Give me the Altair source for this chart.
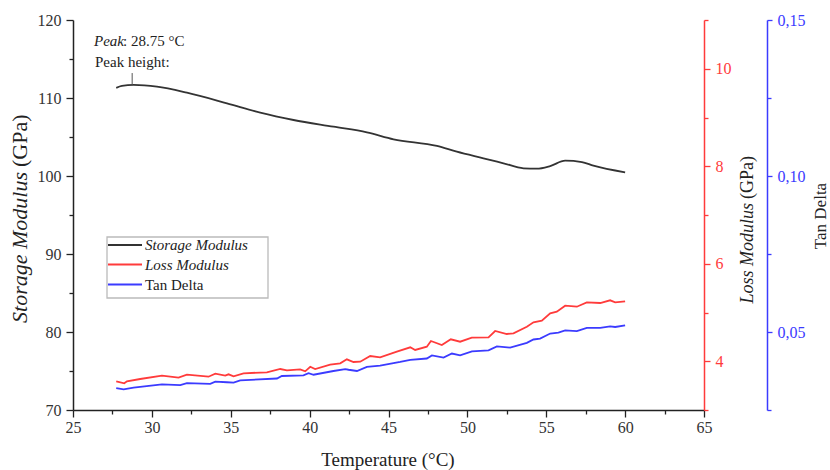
import altair as alt
import pandas as pd

FONT = "Liberation Serif"

# ---------------- data ----------------
storage_T = [27.74, 28.1, 28.84, 30.32, 32.22, 34.76, 36.87, 38.98, 41.51, 43.63, 45.32,
             48.07, 49.33, 51.02, 52.29, 53.56, 54.40, 55.25, 56.20, 57.26, 57.99, 60.00]
storage_V = [111.3, 111.55, 111.67, 111.45, 110.68, 109.32, 108.12, 107.18, 106.32, 105.60, 104.71,
             103.85, 103.12, 102.27, 101.63, 100.99, 100.94, 101.28, 101.96, 101.79, 101.32, 100.47]

loss_T = [27.74, 28.25, 28.42, 29.26, 30.64, 31.69, 32.22, 33.59, 34.02, 34.65, 34.86, 35.18,
          35.81, 37.29, 38.14, 38.56, 39.40, 39.72, 40.04, 40.35, 41.30, 41.94, 42.36, 42.78,
          43.21, 43.84, 44.47, 45.53, 46.38, 46.69, 47.43, 47.69, 48.38, 48.95, 49.54, 50.28,
          51.34, 51.76, 52.50, 52.92, 53.77, 54.19, 54.72, 55.25, 55.67, 56.20, 56.94, 57.57,
          58.42, 59.05, 59.37, 60.00]
loss_L = [3.589, 3.548, 3.589, 3.636, 3.704, 3.663, 3.724, 3.683, 3.745, 3.704, 3.732, 3.691,
          3.753, 3.773, 3.841, 3.814, 3.835, 3.794, 3.888, 3.841, 3.929, 3.958, 4.040, 3.985,
          3.991, 4.108, 4.081, 4.196, 4.286, 4.231, 4.298, 4.415, 4.333, 4.450, 4.401, 4.483,
          4.491, 4.621, 4.559, 4.573, 4.709, 4.799, 4.832, 4.984, 5.017, 5.140, 5.119, 5.209,
          5.195, 5.250, 5.209, 5.230]

tan_T = [27.74, 28.21, 28.84, 30.64, 31.80, 32.22, 33.70, 34.02, 34.76, 35.18, 35.60, 37.93,
         38.24, 39.61, 39.93, 40.25, 41.51, 42.26, 42.47, 43.00, 43.63, 44.47, 45.74, 46.38,
         47.43, 47.75, 48.49, 49.02, 49.54, 50.29, 51.34, 51.87, 52.71, 53.77, 54.19, 54.61,
         55.25, 55.77, 56.20, 56.94, 57.57, 58.42, 59.05, 59.37, 60.00]
tan_D = [0.0320, 0.0316, 0.0322, 0.0332, 0.0330, 0.0336, 0.0334, 0.0341, 0.0339, 0.0338, 0.0345, 0.0351,
         0.0359, 0.0361, 0.0368, 0.0363, 0.0375, 0.0381, 0.0379, 0.0375, 0.0388, 0.0392, 0.0404, 0.0411,
         0.0415, 0.0425, 0.0418, 0.0431, 0.0425, 0.0438, 0.0441, 0.0454, 0.0450, 0.0465, 0.0476, 0.0479,
         0.0495, 0.0498, 0.0505, 0.0503, 0.0513, 0.0513, 0.0518, 0.0516, 0.0521]

x_ticks = [25 + 2.5 * i for i in range(17)]
storage_ticks = [70 + 5 * i for i in range(11)]
loss_ticks = [3, 4, 5, 6, 7, 8, 9, 10, 11]
tan_ticks = [0.025, 0.05, 0.075, 0.1, 0.125, 0.15]

peak_temp = [28.75]
peak_tick_low = [111.7]
peak_tick_high = [113.2]

legend_labels = ["Storage Modulus", "Loss Modulus", "Tan Delta"]

BLACK = "#333333"
RED = "#ff3b3b"
BLUE = "#3b3bff"

storage_df = pd.DataFrame({"T": storage_T, "v": storage_V})
loss_df = pd.DataFrame({"T": loss_T, "v": loss_L})
tan_df = pd.DataFrame({"T": tan_T, "v": tan_D})
peak_df = pd.DataFrame({"T": peak_temp, "lo": peak_tick_low, "hi": peak_tick_high})
one = pd.DataFrame({"k": [0]})

# ---------------- axes ----------------
common = dict(grid=False, title="", labelFont=FONT, labelFontSize=16, labelFlush=False,
              labelOverlap=False, domainWidth=1.5, tickWidth=1.3)

x_axis = alt.Axis(values=x_ticks,
                  labelExpr="datum.value % 5 === 0 ? datum.label : ''",
                  tickSize={"condition": {"test": "datum.value % 5 === 0", "value": 7}, "value": 4},
                  domainColor="#222222", tickColor="#222222", labelColor="#333333",
                  labelPadding=2, **common)
x_enc = alt.X("T:Q", scale=alt.Scale(domain=[25, 65], nice=False, zero=False), axis=x_axis)

left_axis = alt.Axis(orient="left", values=storage_ticks,
                     labelExpr="datum.value % 10 === 0 ? datum.label : ''",
                     tickSize={"condition": {"test": "datum.value % 10 === 0", "value": 7}, "value": 4},
                     domainColor="#222222", tickColor="#222222", labelColor="#333333",
                     labelPadding=5, **common)
s_scale = alt.Scale(domain=[70, 120], nice=False, zero=False)

red_axis = alt.Axis(orient="right", values=loss_ticks,
                    labelExpr="datum.value % 2 === 0 ? datum.label : ''",
                    tickSize={"condition": {"test": "datum.value % 2 === 0", "value": 6}, "value": 4},
                    domainColor=RED, tickColor=RED, labelColor=RED, labelPadding=5, **common)
l_scale = alt.Scale(domain=[3, 11], nice=False, zero=False)

blue_axis = alt.Axis(orient="right", offset=63, values=tan_ticks,
                     labelExpr="round(datum.value*1000) % 50 === 0 ? replace(format(datum.value, '.2f'), '.', ',') : ''",
                     tickSize={"condition": {"test": "round(datum.value*1000) % 50 === 0", "value": 5}, "value": 4},
                     domainColor=BLUE, tickColor=BLUE, labelColor=BLUE, labelPadding=5, **common)
t_scale = alt.Scale(domain=[0.025, 0.15], nice=False, zero=False)

# ---------------- layers ----------------
storage_line = alt.Chart(storage_df).mark_line(color=BLACK, strokeWidth=1.8, interpolate="monotone").encode(
    x=x_enc, y=alt.Y("v:Q", scale=s_scale, axis=left_axis))
peak_rule = alt.Chart(peak_df).mark_rule(color="#555555", strokeWidth=1).encode(
    x=x_enc, y=alt.Y("lo:Q", scale=s_scale, axis=left_axis), y2="hi:Q")
storage_layer = alt.layer(storage_line, peak_rule)

loss_line = alt.Chart(loss_df).mark_line(color=RED, strokeWidth=1.8).encode(
    x=x_enc, y=alt.Y("v:Q", scale=l_scale, axis=red_axis))
tan_line = alt.Chart(tan_df).mark_line(color=BLUE, strokeWidth=1.8).encode(
    x=x_enc, y=alt.Y("v:Q", scale=t_scale, axis=blue_axis))


def txt(s, x, y, size=15, style="normal", align="left", angle=0, baseline="alphabetic", color="#222222"):
    return alt.Chart(one).mark_text(text=s, font=FONT, fontSize=size, fontStyle=style, align=align,
                                    angle=angle, baseline=baseline, color=color).encode(
        x=alt.value(x), y=alt.value(y))


texts = [
    # axis titles
    txt("(GPa)", -53, 147, size=22, align="left", angle=270, baseline="middle"),
    txt("Storage Modulus", -53, 152, size=22, style="italic", align="right", angle=270, baseline="middle"),
    txt("(GPa)", 675, 179, size=18, align="left", angle=270, baseline="middle"),
    txt("Loss Modulus", 675, 183, size=18, style="italic", align="right", angle=270, baseline="middle"),
    txt("Tan Delta", 748, 196, size=17, align="center", angle=270, baseline="middle"),
    txt("Temperature (°C)", 315, 446, size=19, align="center"),
    # annotation
    txt("Peak", 21, 26, style="italic"),
    txt(": 28.75 °C", 50, 26),
    txt("Peak height:", 22, 47),
]

legend_box = alt.Chart(one).mark_rect(fill="white", stroke="#bbbbbb", strokeWidth=1.3).encode(
    x=alt.value(34), x2=alt.value(195), y=alt.value(217), y2=alt.value(278))
legend_rows = [225, 244.5, 264.5]
legend_colors = [BLACK, RED, BLUE]
legend_styles = ["italic", "italic", "normal"]
legend_layers = [legend_box]
for lab, yy, col, st in zip(legend_labels, legend_rows, legend_colors, legend_styles):
    legend_layers.append(alt.Chart(one).mark_rule(color=col, strokeWidth=1.8).encode(
        x=alt.value(35), x2=alt.value(69), y=alt.value(yy)))
    legend_layers.append(txt(lab, 72, yy, style=st, baseline="middle"))

chart = alt.layer(storage_layer, loss_line, tan_line, *texts, *legend_layers).resolve_scale(
    y="independent"
).properties(
    width=631, height=390,
    autosize=alt.AutoSizeParams(type="none"),
    padding={"left": 73, "top": 20, "right": 126, "bottom": 60},
    background="white",
).configure_view(strokeWidth=0)

chart.save("out.html", embed_options={"renderer": "svg", "actions": False})
